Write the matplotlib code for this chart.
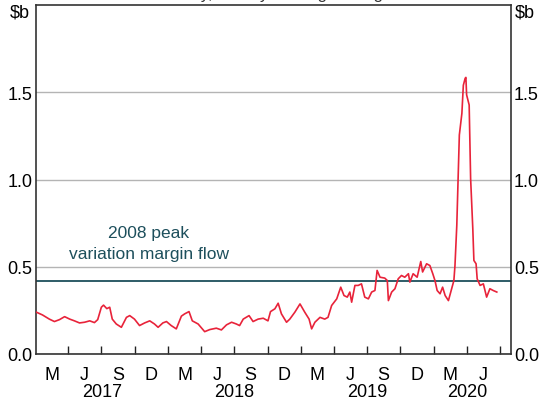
import matplotlib
matplotlib.use("Agg")
import matplotlib.pyplot as plt
import matplotlib.transforms as mtransforms
import pandas as pd

plt.rcParams['font.family'] = ['Liberation Sans', 'DejaVu Sans']

# variation margin flows, $b
dates = [
    "2017-01-03", "2017-01-20", "2017-02-08", "2017-02-22", "2017-03-08", "2017-03-22",
    "2017-04-05", "2017-04-18", "2017-05-02", "2017-05-16", "2017-05-30", "2017-06-12",
    "2017-06-21", "2017-07-01", "2017-07-07", "2017-07-16", "2017-07-24", "2017-07-31",
    "2017-08-11", "2017-08-25", "2017-09-08", "2017-09-17", "2017-09-30", "2017-10-14",
    "2017-10-28", "2017-11-11", "2017-11-24", "2017-12-04", "2017-12-17", "2017-12-27",
    "2018-01-09", "2018-01-23", "2018-02-06", "2018-02-15", "2018-02-27", "2018-03-08",
    "2018-03-24", "2018-04-11", "2018-04-25", "2018-05-13", "2018-05-27", "2018-06-10",
    "2018-06-24", "2018-07-07", "2018-07-16", "2018-07-26", "2018-08-11", "2018-08-22",
    "2018-09-05", "2018-09-19", "2018-10-02", "2018-10-09", "2018-10-21", "2018-10-30",
    "2018-11-08", "2018-11-22", "2018-12-01", "2018-12-15", "2018-12-29", "2019-01-11",
    "2019-01-23", "2019-01-30", "2019-02-08", "2019-02-22", "2019-03-07", "2019-03-16",
    "2019-03-26", "2019-04-09", "2019-04-20", "2019-04-29", "2019-05-08", "2019-05-15",
    "2019-05-20", "2019-05-29", "2019-06-07", "2019-06-16", "2019-06-25", "2019-07-05",
    "2019-07-14", "2019-07-23", "2019-07-29", "2019-08-06", "2019-08-19", "2019-08-26",
    "2019-08-29", "2019-09-07", "2019-09-16", "2019-09-25", "2019-10-04", "2019-10-13",
    "2019-10-23", "2019-10-27", "2019-11-05", "2019-11-16", "2019-11-26", "2019-12-01",
    "2019-12-12", "2019-12-21", "2019-12-29", "2020-01-04", "2020-01-10", "2020-01-18",
    "2020-01-25", "2020-02-01", "2020-02-10", "2020-02-19", "2020-02-25", "2020-02-28",
    "2020-03-04", "2020-03-06", "2020-03-11", "2020-03-18", "2020-03-22", "2020-03-27",
    "2020-03-29", "2020-03-31", "2020-04-07", "2020-04-11", "2020-04-17", "2020-04-20",
    "2020-04-26", "2020-04-29", "2020-05-07", "2020-05-16", "2020-05-25", "2020-06-03",
    "2020-06-12", "2020-06-22",
]
flows = [
    0.24, 0.224, 0.20, 0.186, 0.197, 0.214,
    0.20, 0.19, 0.178, 0.182, 0.19, 0.18,
    0.197, 0.268, 0.28, 0.26, 0.268, 0.20,
    0.172, 0.153, 0.21, 0.22, 0.20, 0.163,
    0.178, 0.19, 0.172, 0.153, 0.178, 0.186,
    0.163, 0.144, 0.217, 0.23, 0.243, 0.19,
    0.172, 0.128, 0.14, 0.148, 0.138, 0.167,
    0.182, 0.172, 0.163, 0.20, 0.22, 0.186,
    0.20, 0.205, 0.19, 0.243, 0.259, 0.291,
    0.23, 0.182, 0.20, 0.24, 0.287, 0.24,
    0.20, 0.144, 0.182, 0.21, 0.20, 0.21,
    0.278, 0.316, 0.383, 0.335, 0.326, 0.355,
    0.297, 0.393, 0.393, 0.402, 0.326, 0.316,
    0.355, 0.364, 0.479, 0.44, 0.435, 0.421,
    0.306, 0.355, 0.374, 0.431, 0.45, 0.44,
    0.46, 0.412, 0.46, 0.44, 0.53, 0.47,
    0.517, 0.507, 0.46, 0.421, 0.364, 0.345,
    0.383, 0.335, 0.306, 0.374, 0.421, 0.507,
    0.737, 0.89, 1.255, 1.379, 1.54, 1.58,
    1.585, 1.485, 1.427, 1.006, 0.718, 0.536,
    0.517, 0.431, 0.393, 0.402, 0.326, 0.374,
    0.364, 0.355,
]
peak_2008 = 0.42

quarter_ticks = pd.date_range("2017-04-01", "2020-07-01", freq="QS")
month_labels = ["M", "J", "S", "D"] * 3 + ["M", "J"]
month_pos = pd.date_range("2017-01-01", "2020-04-01", freq="QS") + pd.Timedelta(days=45)
years = ["2017", "2018", "2019", "2020"]
year_pos = pd.to_datetime(["2017-07-02", "2018-07-02", "2019-07-02", "2020-04-01"])

red = "#e8233a"
teal = "#1d4f5c"

fig = plt.figure(figsize=(5.49, 4.02), dpi=100)
ax = fig.add_axes([35.5 / 549, 47 / 402, (511 - 35.5) / 549, (355 - 6) / 402])

ax.plot(pd.to_datetime(dates), flows, color=red, lw=1.2, zorder=3)
ax.axhline(peak_2008, color=teal, lw=1.3, zorder=2)
ax.text(pd.Timestamp("2017-11-09"), 0.635, "2008 peak\nvariation margin flow",
        color=teal, fontsize=12.5, ha="center", va="center", linespacing=1.5)

ax.set_xlim(pd.Timestamp("2017-01-01"), pd.Timestamp("2020-07-31"))
ax.set_ylim(0, 2.0)

ax.set_yticks([0, 0.5, 1.0, 1.5])
ax.set_yticklabels(["0.0", "0.5", "1.0", "1.5"])
ax.tick_params(axis="y", length=0, labelsize=13, pad=2, labelright=True)
ax.yaxis.grid(True, color="#b4b4b4", lw=1)
ax.set_axisbelow(True)

ax.set_xticks(quarter_ticks)
ax.set_xticklabels([])
ax.set_xticks(month_pos, minor=True)
ax.set_xticklabels(month_labels, minor=True)
ax.tick_params(axis="x", which="major", direction="in", length=6, width=1, color="#222222")
ax.tick_params(axis="x", which="minor", length=0, labelsize=13, pad=9)

for s in ax.spines.values():
    s.set_color("#333333")
    s.set_linewidth(1.2)

trans = mtransforms.blended_transform_factory(ax.transData, ax.transAxes)
for yr, pos in zip(years, year_pos):
    ax.text(pos, -0.108, yr, transform=trans, ha="center", va="center", fontsize=13)

fig.text(20 / 549, 1 - 13 / 402, "$b", ha="center", va="center", fontsize=13)
fig.text(525 / 549, 1 - 13 / 402, "$b", ha="center", va="center", fontsize=13)
fig.text(282 / 549, 1.003, "Daily, 20-day moving average", ha="center",
         va="baseline", fontsize=12, color="#333333")

fig.savefig("out.png", dpi=100)
